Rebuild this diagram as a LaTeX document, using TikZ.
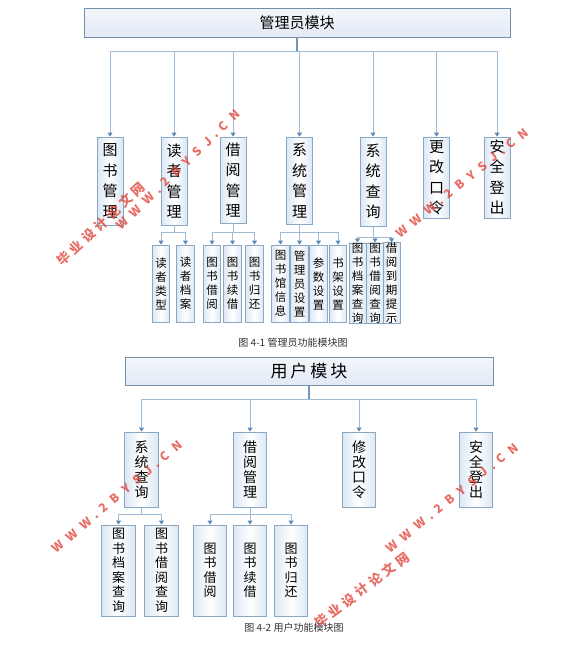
\documentclass[tikz,border=0pt]{standalone}
\usepackage{fontspec}
\setmainfont{Noto Sans CJK SC}
\usetikzlibrary{arrows.meta}
\definecolor{topbord}{HTML}{7490AB}
\definecolor{bord}{HTML}{89A8C6}
\definecolor{linec}{HTML}{9DBCD8}
\definecolor{stemc}{HTML}{6F96BC}
\definecolor{arrc}{HTML}{5E8AB6}
\definecolor{glow}{HTML}{DCE7F3}
\definecolor{topa}{HTML}{F3F6FB}
\definecolor{topb}{HTML}{E2EAF5}
\definecolor{wmred}{HTML}{E2483E}
\definecolor{capc}{HTML}{333333}
\newcommand{\wmlat}{W\hspace{7pt}W\hspace{7pt}W\hspace{5pt}.\hspace{5pt}2\hspace{7pt}B\hspace{7pt}Y\hspace{7pt}S\hspace{7pt}J\hspace{5pt}.\hspace{5pt}C\hspace{7pt}N}
\newcommand{\wmcn}{毕\hspace{4pt}业\hspace{4pt}设\hspace{4pt}计\hspace{4pt}论\hspace{4pt}文\hspace{4pt}网}
\tikzset{
  topbox/.style={draw=topbord,line width=1pt,top color=topa,bottom color=topb,inner sep=0pt},
  kidbox/.style={draw=bord,line width=0.9pt,left color=glow,right color=glow,middle color=white,inner sep=0pt,align=center},
  adml2/.style={kidbox,minimum width=26pt,font=\fontsize{15}{20.5}\selectfont},
  adml3/.style={kidbox,minimum width=17.5pt,font=\fontsize{11.5}{14}\selectfont},
  usrl2/.style={kidbox,minimum width=33.5pt,minimum height=75pt,font=\fontsize{14}{15}\selectfont},
  usrl3/.style={kidbox,minimum width=33.5pt,minimum height=91pt,font=\fontsize{13}{14.5}\selectfont},
  lin/.style={draw=linec,line width=0.9pt},
  conn/.style={lin,-{Triangle[width=5pt,length=4pt,color=arrc]}},
  stem/.style={draw=stemc,line width=1.8pt},
  caption/.style={font=\fontsize{10}{12}\selectfont,text=capc,inner sep=0pt},
  wm/.style={text=wmred,opacity=0.8,font=\bfseries\fontsize{12}{12}\selectfont,inner sep=0pt},
  wmc/.style={text=wmred,opacity=0.8,font=\bfseries\fontsize{13}{13}\selectfont,inner sep=0pt}
}
\begin{document}
\begin{tikzpicture}[x=1pt,y=-1pt]
\useasboundingbox[fill=white] (0,0) rectangle (571,645);
% ===== admin module =====
\node[topbox,minimum width=426pt,minimum height=29pt,font=\fontsize{15}{15}\selectfont] (adm) at (297,22.5) {管理员模块};
\node[adml2,minimum height=88pt] (a1) at (110,181) {图\\书\\管\\理};
\node[adml2,minimum height=88pt] (a2) at (174,181) {读\\者\\管\\理};
\node[adml2,minimum height=86pt] (a3) at (233,180) {借\\阅\\管\\理};
\node[adml2,minimum height=87pt] (a4) at (299.5,180.5) {系\\统\\管\\理};
\node[adml2,minimum height=89pt] (a5) at (373,181.5) {系\\统\\查\\询};
\node[adml2,minimum height=81pt] (a6) at (436.5,177.5) {更\\改\\口\\令};
\node[adml2,minimum height=81pt] (a7) at (497,177.5) {安\\全\\登\\出};
\coordinate (ab) at (297,51);
\draw[stem] (adm.south) -- (ab);
\foreach \k in {a1,a2,a3,a4,a5,a6,a7}{\draw[conn] (ab) -| (\k.north);}
% level 3
\node[adml3,minimum height=77pt] (b1) at (161,283.5) {读\\者\\类\\型};
\node[adml3,minimum height=77pt] (b2) at (185.5,283.5) {读\\者\\档\\案};
\node[adml3,minimum height=77pt] (b3) at (212,283.5) {图\\书\\借\\阅};
\node[adml3,minimum height=77pt] (b4) at (232.5,283.5) {图\\书\\续\\借};
\node[adml3,minimum height=77pt] (b5) at (254.5,283.5) {图\\书\\归\\还};
\node[adml3,minimum height=77pt] (b6) at (280.5,283.5) {图\\书\\馆\\信\\息};
\node[adml3,minimum height=77pt] (b7) at (299.5,283.5) {管\\理\\员\\设\\置};
\node[adml3,minimum height=77pt] (b8) at (318.5,283.5) {参\\数\\设\\置};
\node[adml3,minimum height=77pt] (b9) at (338,283.5) {书\\架\\设\\置};
\node[adml3,minimum height=80pt,minimum width=17pt] (b10) at (357.5,283) {图\\书\\档\\案\\查\\询};
\node[adml3,minimum height=80pt,minimum width=16.5pt] (b11) at (375,283) {图\\书\\借\\阅\\查\\询};
\node[adml3,minimum height=80pt,minimum width=17pt] (b12) at (391.5,283) {借\\阅\\到\\期\\提\\示};
\coordinate (j2) at (174,232);
\coordinate (j3) at (233,232);
\coordinate (j4) at (299.5,232);
\coordinate (j5) at (373,237);
\draw[lin] (a2.south) -- (j2);
\draw[lin] (a3.south) -- (j3);
\draw[lin] (a4.south) -- (j4);
\draw[lin] (a5.south) -- (j5);
\foreach \k in {b1,b2}{\draw[conn] (j2) -| (\k.north);}
\foreach \k in {b3,b4,b5}{\draw[conn] (j3) -| (\k.north);}
\foreach \k in {b6,b7,b8,b9}{\draw[conn] (j4) -| (\k.north);}
\foreach \k in {b10,b11,b12}{\draw[conn] (j5) -| (\k.north);}
\node[caption] (cap1) at (293,343) {图 4-1 管理员功能模块图};
% ===== user module =====
\node[topbox,minimum width=368pt,minimum height=28pt,font=\fontsize{17}{17}\selectfont] (usr) at (309,371) {用\hspace{3pt}户\hspace{3pt}模\hspace{3pt}块};
\node[usrl2] (u1) at (141.5,469.5) {系\\统\\查\\询};
\node[usrl2] (u2) at (250,469.5) {借\\阅\\管\\理};
\node[usrl2] (u3) at (359,469.5) {修\\改\\口\\令};
\node[usrl2] (u4) at (476,469.5) {安\\全\\登\\出};
\coordinate (ub) at (309,399);
\draw[stem] (usr.south) -- (ub);
\foreach \k in {u1,u2,u3,u4}{\draw[conn] (ub) -| (\k.north);}
\node[usrl3] (v1) at (118.5,570.5) {图\\书\\档\\案\\查\\询};
\node[usrl3] (v2) at (161.5,570.5) {图\\书\\借\\阅\\查\\询};
\node[usrl3] (v3) at (210,570.5) {图\\书\\借\\阅};
\node[usrl3] (v4) at (250,570.5) {图\\书\\续\\借};
\node[usrl3] (v5) at (291,570.5) {图\\书\\归\\还};
\coordinate (k1) at (141.5,514);
\coordinate (k2) at (250,514);
\draw[lin] (u1.south) -- (k1);
\draw[lin] (u2.south) -- (k2);
\foreach \k in {v1,v2}{\draw[conn] (k1) -| (\k.north);}
\foreach \k in {v3,v4,v5}{\draw[conn] (k2) -| (\k.north);}
\node[caption] (cap2) at (294,628) {图 4-2 用户功能模块图};
% ===== watermarks =====
\node[wm,rotate=44] (w1) at (178,170) {\wmlat};
\node[wmc,rotate=43] (w2) at (101,224) {\wmcn};
\node[wm,rotate=39] (w3) at (462,183) {\wmlat};
\node[wm,rotate=40] (w4) at (117,497) {\wmlat};
\node[wm,rotate=39] (w5) at (452,498) {\wmlat};
\node[wmc,rotate=37] (w6) at (362,590) {\wmcn};
\end{tikzpicture}
\end{document}
